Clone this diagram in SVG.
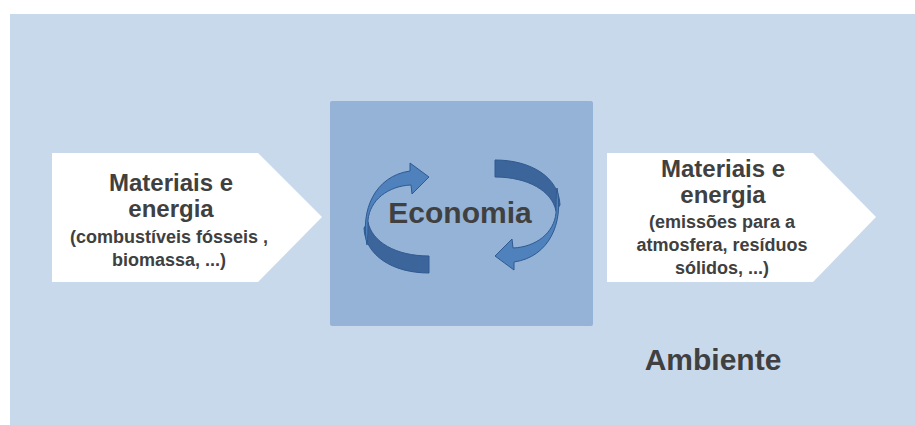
<svg xmlns="http://www.w3.org/2000/svg" width="915" height="425" viewBox="0 0 915 425">
  <defs>
    <style>
      .bg { fill: #C9D9EC; }
      .flow { fill: #FFFFFF; }
      .core { fill: #95B3D7; }
      .t { font-family: "Liberation Sans", Arial, sans-serif; font-weight: bold; fill: #404040; text-anchor: middle; }
      .big { font-size: 24px; }
      .small { font-size: 18px; }
      .title { font-size: 30px; }
      .light { fill: #4F81BD; stroke: #2F5A90; stroke-width: 1; stroke-linejoin: round; }
      .dark { fill: #3C659C; stroke: #2F5A90; stroke-width: 1; stroke-linejoin: round; }
    </style>
    <g id="cyc">
      <path class="dark" d="M368,222 C372,242 396,256 429,256 L429,273 C392,273 365,255 364,228 Z"/>
      <path class="light" d="M367,245 C360,210 375,176 410,171 L410,163 L429,177 L412,194 L411,185 C388,186 370,200 368,220 C368,230 368,238 367,245 Z"/>
    </g>
  </defs>

  <rect id="background" class="bg" x="10" y="14" width="905" height="411"/>

  <g id="node-entrada">
    <polygon class="flow" points="52,153 258,153 322,217 258,282 52,282"/>
    <text class="t big" x="171" y="191">Materiais e</text>
    <text class="t big" x="171" y="217">energia</text>
    <text class="t small" x="169" y="243">(combustíveis fósseis ,</text>
    <text class="t small" x="169" y="266">biomassa, ...)</text>
  </g>

  <g id="node-economia">
    <rect class="core" x="330" y="101" width="263" height="225" rx="2"/>
    <text class="t title" x="460" y="223">Economia</text>
  </g>

  <g id="connectors">
    <use href="#cyc"/>
    <use href="#cyc" transform="rotate(180 462 216.5)"/>
  </g>

  <g id="node-saida">
    <polygon class="flow" points="607,153 813,153 876,217 813,282 607,282"/>
    <text class="t big" x="723" y="177">Materiais e</text>
    <text class="t big" x="723" y="203">energia</text>
    <text class="t small" x="722" y="228">(emissões para a</text>
    <text class="t small" x="722" y="251">atmosfera, resíduos</text>
    <text class="t small" x="722" y="274">sólidos, ...)</text>
  </g>

  <g id="label-ambiente">
    <text class="t title" x="713" y="370">Ambiente</text>
  </g>
</svg>
